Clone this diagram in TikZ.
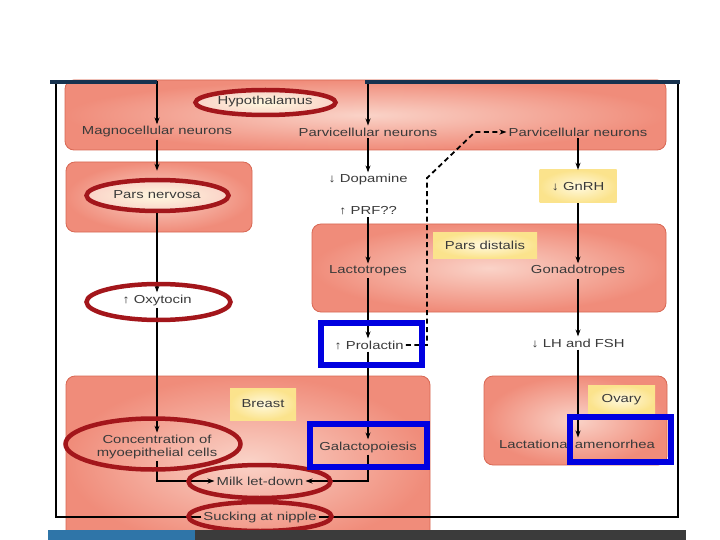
\documentclass[tikz,border=0pt]{standalone}
\usepackage{fontspec}
\setmainfont{Liberation Sans}[FakeStretch=1.28]
\usepackage{tikz}
\usetikzlibrary{positioning,shapes.geometric,arrows.meta}
\definecolor{pinkin}{HTML}{FAD3C8}
\definecolor{pinkout}{HTML}{F08C7A}
\definecolor{pinkedge}{HTML}{D86854}
\definecolor{yellowin}{HTML}{FFF9DF}
\definecolor{yellowout}{HTML}{FBE38C}
\definecolor{ringred}{HTML}{A3161B}
\definecolor{hiblue}{HTML}{0000E0}
\definecolor{slidenavy}{HTML}{17324F}
\definecolor{inkgray}{HTML}{3A3A3A}
\definecolor{bargray}{HTML}{3B3B3B}
\definecolor{barblue}{HTML}{2F75A8}

\begin{document}
\begin{tikzpicture}[x=1pt, y=-1pt,
    organ/.style={rectangle, rounded corners=9pt, draw=pinkedge, line width=0.8pt,
        inner color=pinkin, outer color=pinkout},
    tag/.style={rectangle, inner color=yellowin, outer color=yellowout, inner sep=0pt},
    lbl/.style={font=\fontsize{11.6}{13.5}\selectfont, text=inkgray, inner sep=2pt, align=center},
    ring/.style={ellipse, draw=ringred, line width=4.5pt, inner sep=0pt},
    glow/.style={inner color=yellowin, outer color=pinkin},
    hilite/.style={rectangle, draw=hiblue, line width=6pt, inner sep=0pt},
    arr/.style={-{Stealth[length=7pt, width=5pt]}, black, line width=1.1pt},
    dasharr/.style={arr, dash pattern=on 5pt off 3.5pt, line width=1.8pt}
]
\useasboundingbox (0,0) rectangle (720,540);
\fill[white] (0,0) rectangle (720,540);

\node[organ, minimum width=601pt, minimum height=70pt] (hypbox) at (365.5,115) {};
\node[organ, minimum width=186pt, minimum height=70pt] (nervbox) at (159,197) {};
\node[organ, minimum width=354pt, minimum height=88pt] (distbox) at (489,268) {};
\node[organ, minimum width=364pt, minimum height=172pt] (breastbox) at (248,462) {};
\node[organ, minimum width=183pt, minimum height=89pt] (ovarybox) at (575.5,420.5) {};

\node[ring, glow, minimum width=140pt, minimum height=25pt] (hypo-ring) at (265.5,102.5) {};
\node[ring, glow, minimum width=142pt, minimum height=31pt] (nerv-ring) at (157.5,195.5) {};

\node[lbl] (hypo) at (265,102) {Hypothalamus};
\node[lbl] (magno) at (157,132) {Magnocellular neurons};
\node[lbl] (parvo) at (368,132) {Parvicellular neurons};
\node[lbl] (parvg) at (578,132) {Parvicellular neurons};
\node[lbl] (nerv) at (157,195) {Pars nervosa};
\node[lbl] (dopa) at (368,180) {↓ Dopamine};
\node[lbl] (prf) at (368,211) {↑ PRF??};
\node[tag, lbl, minimum width=77pt, minimum height=33pt] (gnrh) at (578,186.5) {↓ GnRH};
\node[tag, lbl, minimum width=104pt, minimum height=26pt] (distalis) at (485,245) {Pars distalis};
\node[lbl] (lacto) at (368,271) {Lactotropes};
\node[lbl] (gonad) at (578,271) {Gonadotropes};
\node[lbl] (oxy) at (157,300) {↑ Oxytocin};
\node[lbl] (prol) at (369,345) {↑ Prolactin};
\node[lbl] (lhfsh) at (578,343) {↓ LH and FSH};
\node[tag, lbl, minimum width=66pt, minimum height=32pt] (breast) at (263,404) {Breast};
\node[tag, lbl, minimum width=67pt, minimum height=28pt] (ovary) at (621.5,399.5) {Ovary};
\node[lbl] (conc) at (157,447) {Concentration of\\myoepithelial cells};
\node[lbl] (galac) at (368,447) {Galactopoiesis};
\node[lbl] (amen) at (577,444) {Lactational amenorrhea};
\node[lbl] (milk) at (260,481) {Milk let-down};
\node[lbl] (suck) at (260,517) {Sucking at nipple};

\coordinate (loopL) at (56,82);
\coordinate (loopR) at (678,82);
\coordinate (dashlow) at (427,178);
\coordinate (dashhigh) at (475,132);

\draw[arr] (suck.west) -| (loopL) -| (magno.north);
\draw[arr] (suck.east) -| (loopR) -| (parvo.north);
\draw[arr] (magno) -- ([yshift=7pt]nerv-ring.north -| magno);
\draw[arr] (nerv-ring.south -| oxy) -- (oxy);
\draw[arr] (oxy) -- (conc);
\draw[arr] (parvo) -- (dopa);
\draw[arr] (prf) -- (lacto);
\draw[arr] (lacto) -- (prol.north -| lacto);
\draw[arr] (prol.south -| lacto) -- (galac);
\draw[arr] (conc.south) |- (milk.west);
\draw[arr] (galac.south) |- (milk.east);
\draw[arr] (parvg) -- (gnrh);
\draw[arr] (gnrh) -- (gonad);
\draw[arr] (gonad) -- (lhfsh);
\draw[arr] (lhfsh) -- (amen.north -| lhfsh);
\draw[dasharr] (prol.east) -| (dashlow) -- (dashhigh) -- (parvg.west);

\node[ring, minimum width=144pt, minimum height=36pt] (oxy-ring) at (158.5,302) {};
\node[ring, minimum width=175pt, minimum height=51pt] (conc-ring) at (153,444) {};
\node[ring, minimum width=142pt, minimum height=33pt] (milk-ring) at (259.5,481.5) {};
\node[ring, minimum width=143pt, minimum height=29pt] (suck-ring) at (260,516.5) {};

\node[hilite, minimum width=101pt, minimum height=42pt] (prol-hl) at (371.5,344) {};
\node[hilite, minimum width=117pt, minimum height=43pt] (galac-hl) at (368.5,445.5) {};
\node[hilite, minimum width=101pt, minimum height=45pt] (amen-hl) at (620.5,439.5) {};

\draw[slidenavy, line width=3.5pt] (50,82) -- (157,82) (365,82) -- (680,82);
\fill[bargray] (48,530) rectangle (686,540);
\fill[barblue] (48,530) rectangle (195,540);
\end{tikzpicture}
\end{document}
